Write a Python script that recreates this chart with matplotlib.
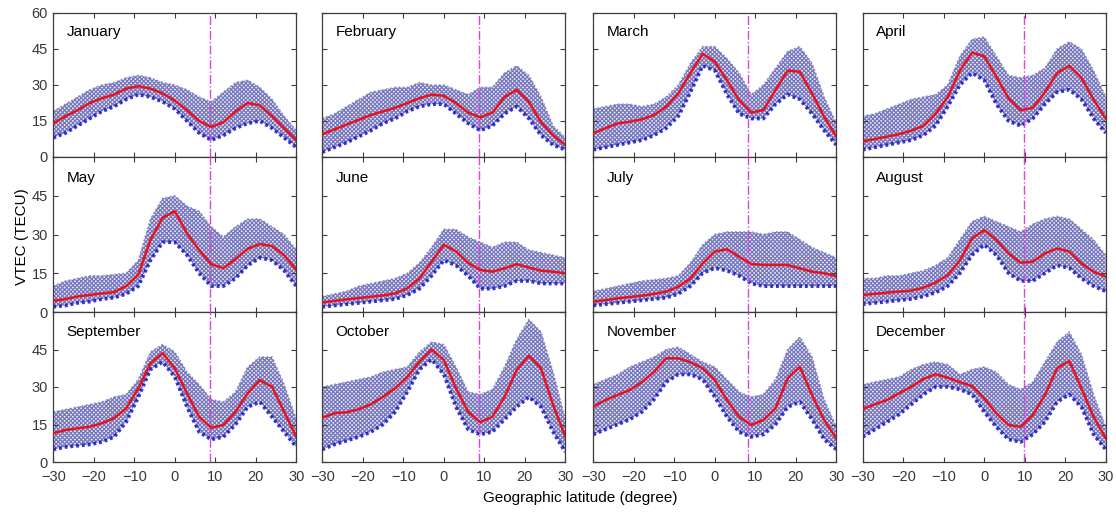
"""Monthly VTEC latitude profiles, 3x4 panel grid."""
import numpy as np
import matplotlib
matplotlib.use("Agg")
import matplotlib.pyplot as plt

plt.rcParams["font.family"] = ["Liberation Sans", "DejaVu Sans"]
plt.rcParams["hatch.linewidth"] = 0.9

# geographic latitude grid (degree)
lat = [-30, -27, -24, -21, -18, -15, -12, -9, -6, -3, 0, 3, 6, 9, 12, 15, 18, 21, 24, 27, 30]

months = ["January", "February", "March", "April", "May", "June",
          "July", "August", "September", "October", "November", "December"]

# monthly mean VTEC (red curve)
jan_mean = [14, 17, 19.5, 22.5, 24.5, 26, 28.5, 29.5, 28.5, 26.5, 23.5, 19.5, 15, 12.5, 14.5, 19, 22.5, 21.5, 17, 12, 7]
feb_mean = [9.5, 11.5, 13.5, 15.5, 17.5, 19, 20.5, 22.5, 24.5, 26, 25.5, 22.5, 18.5, 16.5, 18.5, 25, 28, 23, 14.5, 9, 5]
mar_mean = [9.9, 12, 14, 14.7, 15.7, 17.5, 21, 26.5, 35, 43, 39.7, 32, 23.7, 18.5, 19.6, 27.9, 36, 35.5, 26.5, 16.8, 8.5]
apr_mean = [6.5, 7.5, 8.5, 9.5, 11, 13, 18, 25, 36, 43.5, 42, 33.5, 24.5, 19.5, 20.5, 27, 35, 38, 33, 24, 16]
may_mean = [4.3, 5, 6, 6.6, 7.2, 7.7, 10, 14.5, 28, 36.5, 39, 30.5, 24, 18.5, 17, 20.5, 24.5, 26.3, 25.5, 22, 16.3]
jun_mean = [3.7, 4.3, 4.9, 5.4, 5.9, 6.4, 7.2, 9.2, 13, 19.5, 26, 23.5, 19, 16.3, 15.6, 16.9, 18.5, 17.2, 16, 15.6, 15]
jul_mean = [4, 4.6, 5.3, 5.8, 6.3, 7, 7.9, 9.8, 13, 18.8, 23.4, 24.3, 21.4, 18.6, 18.2, 18.2, 18.2, 16.9, 15.6, 15, 13.9]
aug_mean = [6.6, 7, 7.5, 7.9, 8.3, 9.4, 11.4, 14.3, 20, 28.5, 31.7, 27.9, 22.7, 19.1, 19.5, 22.7, 24.6, 23.4, 18.8, 15.6, 13.7]
sep_mean = [11.5, 12.8, 13.5, 14.1, 15.5, 17.5, 21.5, 29.5, 39.5, 43.5, 37.5, 27.5, 18.1, 13.7, 14.8, 20.1, 27.5, 32.8, 30.1, 20.1, 10.1]
oct_mean = [17.7, 19.5, 19.9, 21.1, 23.1, 26.1, 29.5, 34.1, 40.1, 45, 40.8, 29.5, 20.1, 15.9, 18.1, 26.1, 36.8, 42.5, 37.5, 22.8, 10.1]
nov_mean = [22.1, 24.8, 26.8, 28.8, 31.9, 36.1, 41.5, 41.5, 39.9, 37.5, 32.8, 24.8, 18.1, 14.8, 16.8, 21.5, 33.5, 38.1, 26.8, 16.8, 9.5]
dec_mean = [21.2, 23.1, 24.8, 27.5, 30.1, 33.2, 35.1, 33.7, 31.9, 30.4, 25.5, 19.5, 14.8, 14.1, 18.8, 26.8, 37.5, 40.4, 29.5, 18.1, 9.5]

# lower edge of the daily values (blue crosses)
jan_low = [8, 10, 13, 16, 19, 21, 24, 26, 25, 23, 20, 15, 10, 7, 9, 12, 14, 15, 12, 8, 4]
feb_low = [2, 4, 6, 8.5, 11, 14, 16, 19, 21, 22, 22, 18, 14, 11, 13, 18, 21, 16, 9, 5, 3]
mar_low = [3, 4, 5, 6, 7, 9, 12, 17, 27, 38, 36, 26, 18, 16, 16, 22, 26, 24, 18, 11, 5]
apr_low = [3, 4, 5, 6, 7, 9, 13, 21, 30, 35, 32, 22, 15, 13, 16, 22, 27, 28, 24, 16, 10]
may_low = [2, 2.5, 3.5, 4, 5, 5.5, 7, 10, 20, 27, 27, 22, 15, 10, 10, 13, 18, 21, 20, 16, 10]
jun_low = [2, 2.5, 3, 3.5, 4, 4.5, 5, 6.5, 9, 14, 20, 18, 14, 9, 9, 10, 12, 12, 11, 11, 11]
jul_low = [2.5, 3, 3.5, 4, 4.5, 5, 5.5, 7, 10, 15, 17, 16, 14, 11, 10, 10, 10, 10, 10, 10, 10]
aug_low = [3, 3.5, 4, 4.5, 5, 6, 7.5, 10, 15, 22, 26, 22, 15, 12, 12, 15, 18, 17, 13, 10, 8]
sep_low = [5, 6, 6.5, 7, 8, 10, 16, 26, 37, 40, 34, 22, 12, 9, 10, 15, 22, 24, 18, 12, 6]
oct_low = [5, 7, 8.5, 10, 12, 15, 20, 28, 37, 41, 35, 22, 13, 11, 12, 17, 22, 26, 22, 12, 4]
nov_low = [11, 13, 15, 17, 20, 25, 32, 35, 35, 33, 26, 18, 12, 10, 11, 15, 22, 24, 17, 9, 5]
dec_low = [10, 13, 16, 19, 23, 27, 30, 30, 29, 27, 20, 14, 9, 8, 11, 16, 24, 27, 22, 11, 5]

# upper edge of the daily values
jan_high = [19, 22, 25, 28, 30, 31, 33, 34, 33, 31, 30, 28, 25, 23, 27, 31, 32, 29, 24, 17, 11]
feb_high = [16, 18, 21, 24, 27, 28, 29, 29, 31, 30, 30, 28, 26, 29, 29, 35, 38, 34, 25, 13, 8]
mar_high = [20, 21, 22, 22, 21, 22, 25, 30, 39, 46, 46, 41, 35, 26, 30, 37, 44, 46, 39, 25, 14]
apr_high = [17, 18, 20, 22, 24, 25, 26, 30, 42, 49, 50, 42, 34, 33, 34, 37, 45, 48, 45, 36, 25]
may_high = [10, 12, 13, 14, 14, 14.5, 15, 20, 36, 44, 45, 41, 39, 33, 29, 33, 36, 36, 33, 30, 24]
jun_high = [6, 7, 8, 10, 11, 12, 13, 15, 19, 25, 32, 32, 29, 27, 25, 27, 27, 24, 23, 22, 21]
jul_high = [8, 9, 10, 11, 12, 12.5, 13, 14, 19, 26, 30, 31, 31, 31, 30, 31, 31, 28, 25, 23, 21]
aug_high = [13, 13, 14, 14, 15, 16, 18, 21, 28, 35, 37, 35, 33, 31, 34, 36, 37, 36, 32, 28, 22]
sep_high = [20, 21, 22, 23, 24, 26, 27, 33, 44, 47, 44, 36, 31, 25, 24, 28, 38, 42, 42, 31, 17]
oct_high = [30, 31, 32, 33, 34, 36, 37, 38, 44, 48, 47, 38, 28, 27, 29, 38, 49, 57, 52, 36, 17]
nov_high = [31, 33, 35, 38, 40, 42, 45, 46, 43, 40, 38, 33, 28, 26, 27, 33, 45, 50, 42, 25, 14]
dec_high = [31, 32, 33, 34, 37, 39, 40, 39, 35, 37, 38, 36, 31, 29, 32, 40, 48, 52, 43, 27, 14]

# dip (magnetic) equator position per column (degree)
equator_lat = [8.7, 8.6, 8.3, 9.8]

y_ticks = [0, 15, 30, 45, 60]
x_ticks = [-30, -20, -10, 0, 10, 20, 30]

means = [jan_mean, feb_mean, mar_mean, apr_mean, may_mean, jun_mean,
         jul_mean, aug_mean, sep_mean, oct_mean, nov_mean, dec_mean]
lows = [jan_low, feb_low, mar_low, apr_low, may_low, jun_low,
        jul_low, aug_low, sep_low, oct_low, nov_low, dec_low]
highs = [jan_high, feb_high, mar_high, apr_high, may_high, jun_high,
         jul_high, aug_high, sep_high, oct_high, nov_high, dec_high]

W, H = 1116, 513
fig = plt.figure(figsize=(W / 100, H / 100), dpi=100)

col_left = [53.3, 322.3, 593.3, 862.7]
col_width = 243
row_span = [(13, 157), (157, 312), (312, 462)]

frame_col = "#3c3c3c"
tick_col = "#383838"

for i, month in enumerate(months):
    r, c = divmod(i, 4)
    top, bot = row_span[r]
    ax = fig.add_axes([col_left[c] / W, 1 - bot / H, col_width / W, (bot - top) / H])

    # cloud of daily values
    ax.fill_between(lat, lows[i], highs[i], facecolor="#ececf8",
                    edgecolor="#7676bc", hatch="x" * 8, linewidth=0, zorder=1)
    ax.plot(lat, lows[i], color="#1414c4", lw=2.6, ls=(0, (0.8, 0.8)),
            alpha=0.85, zorder=2)
    ax.plot(lat, highs[i], color="#7a7ab8", lw=1.2, ls=(0, (1, 1.5)),
            alpha=0.8, zorder=2)
    ax.plot(lat, means[i], color="#e8121c", lw=1.8, zorder=4)
    ax.axvline(equator_lat[c], color="#dd44dd", lw=1.0, ls="-.", zorder=3)

    ax.set_xlim(-30, 30)
    ax.set_ylim(0, 60)
    ax.set_xticks(x_ticks)
    ax.set_yticks(y_ticks)
    ax.tick_params(direction="in", length=3.5, width=0.8, colors=frame_col,
                   labelcolor=tick_col, labelsize=10.5,
                   top=True, right=True, pad=4)
    ax.tick_params(axis="x", pad=5.5)
    if c == 0:
        ax.set_yticklabels(["0", "15", "30", "45", "60" if r == 0 else ""])
    else:
        ax.set_yticklabels([])
    if r != 2:
        ax.set_xticklabels([])
    for sp in ax.spines.values():
        sp.set_color(frame_col)
        sp.set_linewidth(0.9)

    ax.text(0.055, 0.865, month, transform=ax.transAxes, fontsize=11,
            va="center", ha="left", color="black")

fig.text(22 / W, 1 - 237 / H, "VTEC (TECU)", rotation=90, fontsize=11,
         ha="center", va="center")
fig.text(580 / W, 1 - 498 / H, "Geographic latitude (degree)", fontsize=11,
         ha="center", va="center")

fig.savefig("out.png", dpi=100)
